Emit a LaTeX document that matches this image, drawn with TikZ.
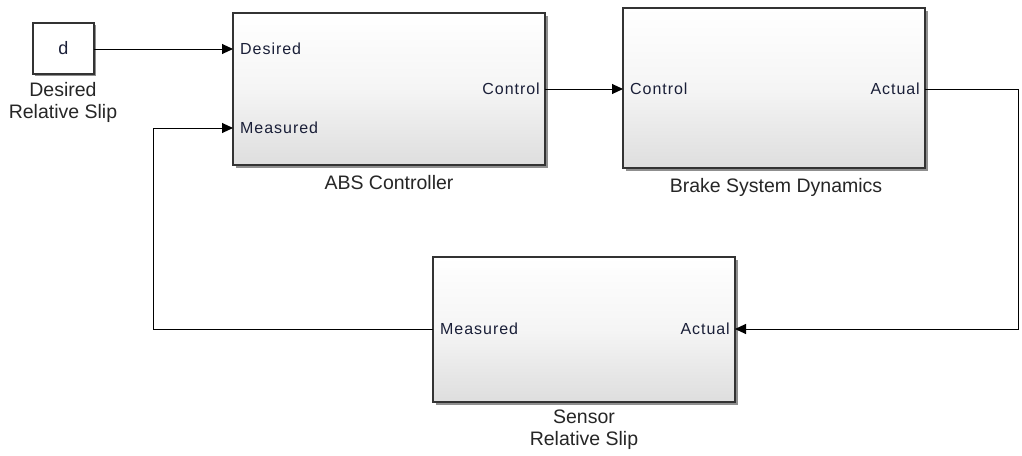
\documentclass[tikz,border=0pt]{standalone}
\usepackage{fontspec}
\setmainfont{Liberation Sans}
\newfontfamily\portfont[LetterSpace=6]{Liberation Sans}
\usetikzlibrary{arrows.meta,shadows,positioning}
\definecolor{porttxt}{HTML}{1A1F38}
\definecolor{edge}{HTML}{333333}
\tikzset{
  block/.style={draw=edge, line width=1.3pt, inner sep=0pt, outer sep=0pt,
    top color=white, bottom color=black!13, middle color=black!4,
    drop shadow={shadow xshift=2.5pt, shadow yshift=-2.5pt, fill=black!55, opacity=0.8}},
  constblock/.style={draw=edge, line width=1.3pt, inner sep=0pt, outer sep=0pt, fill=white,
    drop shadow={shadow xshift=2pt, shadow yshift=-2pt, fill=black!55, opacity=0.8}},
  port/.style={font=\portfont\fontsize{16}{18}\selectfont, text=porttxt, inner sep=0pt},
  lbl/.style={font=\fontsize{19.5}{22}\selectfont, text=black!85, align=center, inner sep=0pt},
  sig/.style={line width=1pt, black, -{Triangle[length=11pt,width=10pt]}},
  wire/.style={line width=1pt, black}
}
\begin{document}
\begin{tikzpicture}[x=1pt,y=-1pt]
\useasboundingbox[fill=white] (0,0) rectangle (1022,455);
% blocks
\node[constblock, minimum width=61pt, minimum height=51pt] (d) at (63.5,48.5) {};
\node[font=\fontsize{18}{20}\selectfont, text=porttxt] (dtxt) at (d.center) {d};
\node[block, minimum width=312pt, minimum height=152pt] (abs) at (389,89) {};
\node[block, minimum width=302pt, minimum height=160pt] (bsd) at (774,88) {};
\node[block, minimum width=302pt, minimum height=145pt] (sen) at (584,329.5) {};
% block labels
\node[lbl] (dlbl) at (63,102) {Desired\\Relative Slip};
\node[lbl] (abslbl) at (389,183) {ABS Controller};
\node[lbl] (bsdlbl) at (776,187) {Brake System Dynamics};
\node[lbl] (senlbl) at (584,430) {Sensor\\Relative Slip};
% port coordinates
\coordinate (absD) at (233,49);
\coordinate (absM) at (233,128);
\coordinate (absC) at (545,89);
\coordinate (bsdC) at (623,89);
\coordinate (bsdA) at (925,89);
\coordinate (senM) at (433,329);
\coordinate (senA) at (735,329);
\coordinate (dout) at (94,49);
% port labels
\node[port, anchor=west] (pD) at ([xshift=7pt]absD) {Desired};
\node[port, anchor=west] (pM) at ([xshift=7pt]absM) {Measured};
\node[port, anchor=east] (pC) at ([xshift=-5pt]absC) {Control};
\node[port, anchor=west] (pBC) at ([xshift=7pt]bsdC) {Control};
\node[port, anchor=east] (pBA) at ([xshift=-5pt]bsdA) {Actual};
\node[port, anchor=west] (pSM) at ([xshift=7pt]senM) {Measured};
\node[port, anchor=east] (pSA) at ([xshift=-5pt]senA) {Actual};
% connectors
\coordinate (c1) at (1018,89);
\coordinate (c2) at (1018,329);
\coordinate (c3) at (153,329);
\coordinate (c4) at (153,128);
\draw[sig] (dout) -- (absD);
\draw[sig] (absC) -- (bsdC);
\draw[sig] (bsdA) -- (c1) -- (c2) -- (senA);
\draw[sig] (senM) -- (c3) -- (c4) -- (absM);
\end{tikzpicture}
\end{document}
